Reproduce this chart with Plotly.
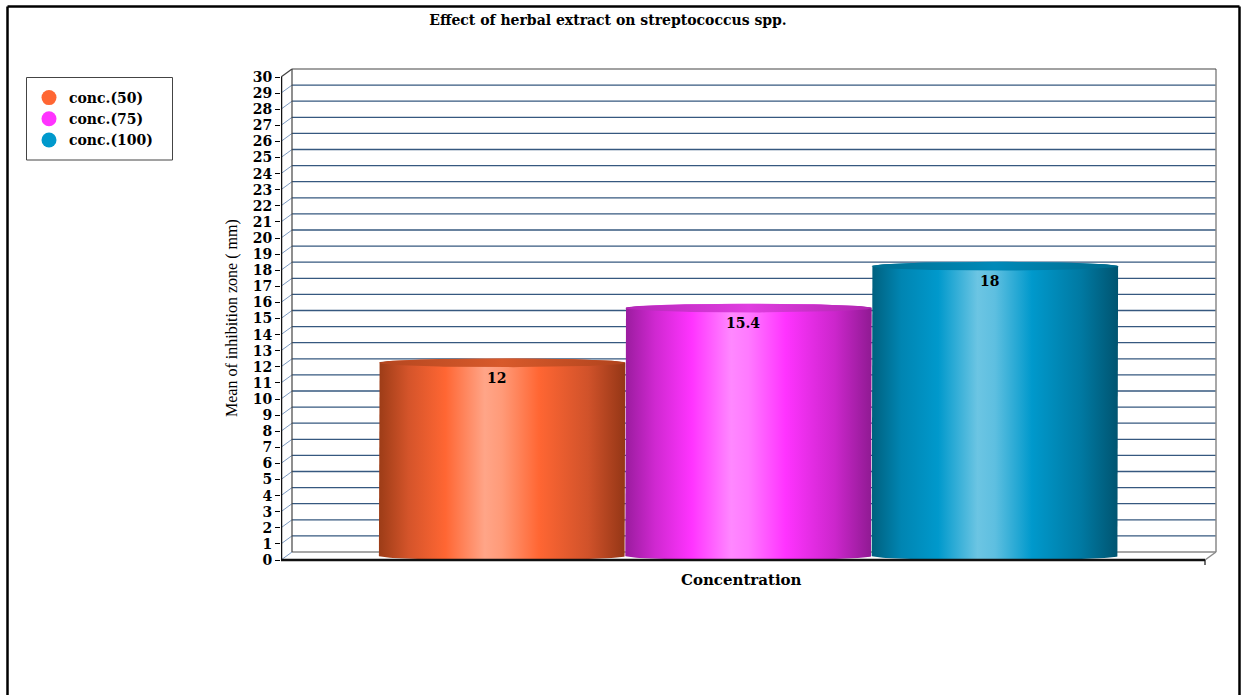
import numpy as np
import plotly.graph_objects as go

# ---- data ----
categories = ["conc.(50)", "conc.(75)", "conc.(100)"]
values = [12, 15.4, 18]
y_ticks = list(range(0, 31))
chart_title = "Effect of herbal extract on streptococcus spp."
x_title = "Concentration"
y_title = "Mean of inhibition zone ( mm)"

# ---- styling ----
legend_colors = ["#ff6633", "#ff33ff", "#0099cc"]
body_scales = [
    [[0, "#9c3c17"], [0.12, "#d4542a"], [0.27, "#ff6633"], [0.43, "#ffa588"],
     [0.5, "#ff9a78"], [0.65, "#ff6633"], [0.85, "#d0522a"], [1, "#943616"]],
    [[0, "#9a1c9e"], [0.12, "#cf28d0"], [0.27, "#ff33ff"], [0.43, "#ff88ff"],
     [0.5, "#ff7aff"], [0.65, "#ff33ff"], [0.85, "#cc26cc"], [1, "#8f1a92"]],
    [[0, "#00607e"], [0.12, "#0085b2"], [0.27, "#0099cc"], [0.43, "#6cc5e3"],
     [0.5, "#5ebfe0"], [0.65, "#0099cc"], [0.85, "#0079a2"], [1, "#005470"]],
]
cap_scales = [
    [[0, "#b4461f"], [0.5, "#d85a2b"], [1, "#b0431d"]],
    [[0, "#b426b8"], [0.5, "#e03ee0"], [1, "#b024b0"]],
    [[0, "#006f92"], [0.5, "#0089b8"], [1, "#006a8c"]],
]
SERIF_WIDE = "DejaVu Serif"
SERIF = "Liberation Serif, Times New Roman, serif"

W, H = 1242, 695
PX_L, PX_FRONT_R, PX_R = 281, 1205, 1220      # plot-area left / front axis end / plot-area right
PX_ZERO, PX_PER_UNIT = 560, 16.1              # pixel row of value 0 and pixels per unit
PLOT_TOP, PLOT_BOT = 67, 565
X_SPAN = PX_FRONT_R - PX_L                    # front axis spans x = 0..1

DX = 11 / X_SPAN                              # depth offset of the back wall
DY = 8 / PX_PER_UNIT
x_max = (PX_R - PX_L) / X_SPAN
y_lo = (PX_ZERO - PLOT_BOT) / PX_PER_UNIT
y_hi = (PX_ZERO - PLOT_TOP) / PX_PER_UNIT


def px(x):
    return (x - PX_L) / (PX_R - PX_L)


def py(y):
    return (PLOT_BOT - y) / (PLOT_BOT - PLOT_TOP)


def segs(pairs):
    xs, ys = [], []
    for (x0, y0), (x1, y1) in pairs:
        xs += [x0, x1, None]
        ys += [y0, y1, None]
    return xs, ys


def line_trace(pairs, color, width):
    xs, ys = segs(pairs)
    return go.Scatter(x=xs, y=ys, mode="lines", line=dict(color=color, width=width),
                      hoverinfo="skip", showlegend=False)


fig = go.Figure()

top_v = y_ticks[-1]
# back-wall grid lines
fig.add_trace(line_trace([((DX, v + DY), (1 + DX, v + DY)) for v in y_ticks[1:-1]], "#36587f", 1.3))
# side-wall connectors
fig.add_trace(line_trace([((0, v), (DX, v + DY)) for v in y_ticks[:-1]], "#5a7fae", 0.8))
# wall edges
fig.add_trace(line_trace([((DX, DY), (1 + DX, DY)), ((1 + DX, DY), (1 + DX, top_v + DY)),
                          ((1, 0), (1 + DX, DY))], "#8a8a8a", 1.5))
fig.add_trace(line_trace([((DX, DY), (DX, top_v + DY)), ((DX, top_v + DY), (1 + DX, top_v + DY)),
                          ((0, top_v), (DX, top_v + DY))], "#444444", 1.2))

# cylinders
group_w = 0.8
bar_w = group_w / len(values)
rx_factor = 0.5
ry = 0.27
t_top = np.linspace(np.pi, 0, 60)
t_bot = np.linspace(0, -np.pi, 60)
t_all = np.linspace(0, 2 * np.pi, 120)
for i, (cat, val) in enumerate(zip(categories, values)):
    left = 0.1 + i * bar_w + DX / 2
    right = left + bar_w
    xc = (left + right) / 2
    rx = bar_w * rx_factor
    base = DY / 2
    top = val + DY / 2
    bx = np.concatenate([[left], xc + rx * np.cos(t_top), [right], xc + rx * np.cos(t_bot)])
    by = np.concatenate([[base], top + ry * np.sin(t_top), [base], base + ry * np.sin(t_bot)])
    fig.add_trace(go.Scatter(
        x=bx, y=by, mode="lines", fill="toself", line=dict(width=0, color="rgba(0,0,0,0)"),
        fillgradient=dict(type="horizontal", colorscale=body_scales[i], start=left, stop=right),
        hoverinfo="skip", showlegend=False))
    fig.add_trace(go.Scatter(
        x=xc + rx * np.cos(t_all), y=top + ry * np.sin(t_all), mode="lines", fill="toself",
        line=dict(width=0, color="rgba(0,0,0,0)"),
        fillgradient=dict(type="horizontal", colorscale=cap_scales[i], start=left, stop=right),
        hoverinfo="skip", showlegend=False))
    fig.add_annotation(x=0.1 + (i + 0.5) * bar_w, y=val + DY / 2 - 0.95, text=f"{val:g}",
                       showarrow=False, xref="x", yref="y", xanchor="center", yanchor="middle",
                       font=dict(family=SERIF_WIDE, size=14, color="black", weight="bold"))

# front axes
fig.add_trace(line_trace([((0, 0), (0, top_v)), ((0, 0), (1, 0))], "#111111", 2.5))
fig.add_trace(line_trace([((1, 0), (1, -5 / PX_PER_UNIT))], "#111111", 1.2))

# legend entries
for cat, c in zip(categories, legend_colors):
    fig.add_trace(go.Scatter(x=[None], y=[None], mode="markers", name=cat,
                             marker=dict(color=c, size=15, symbol="circle")))

fig.add_annotation(x=px(741), y=py(580), xref="paper", yref="paper", text=x_title,
                   xanchor="center", yanchor="middle", showarrow=False,
                   font=dict(family=SERIF_WIDE, size=15, color="black", weight="bold"))
fig.add_annotation(x=px(232), y=py(318), xref="paper", yref="paper", text=y_title, textangle=-90,
                   xanchor="center", yanchor="middle", showarrow=False,
                   font=dict(family=SERIF, size=16, color="black"))

# outer frame
frame = dict(type="line", xref="paper", yref="paper", line=dict(color="black", width=2.5))
fig.add_shape(**frame, x0=px(7.5), y0=py(H + 5), x1=px(7.5), y1=py(6.5))
fig.add_shape(**frame, x0=px(7.5), y0=py(6.5), x1=px(1239.5), y1=py(6.5))
fig.add_shape(**frame, x0=px(1239.5), y0=py(6.5), x1=px(1239.5), y1=py(H + 5))
# legend box
fig.add_shape(type="rect", xref="paper", yref="paper", x0=px(26.5), y0=py(77.5), x1=px(172.5),
              y1=py(160), line=dict(color="#444444", width=1), fillcolor="white", layer="below")

fig.update_layout(
    width=W, height=H,
    margin=dict(l=PX_L, r=W - PX_R, t=PLOT_TOP, b=H - PLOT_BOT, pad=0),
    paper_bgcolor="white", plot_bgcolor="white",
    title=dict(text=chart_title, x=608 / W, y=1 - 20 / H, xanchor="center", yanchor="middle",
               font=dict(family=SERIF_WIDE, size=14, color="black", weight="bold")),
    xaxis=dict(range=[0, x_max], showgrid=False, zeroline=False, showticklabels=False,
               showline=False, ticks="", fixedrange=True),
    yaxis=dict(range=[y_lo, y_hi], tickvals=y_ticks, ticktext=[str(v) for v in y_ticks],
               ticks="outside", ticklen=5, tickwidth=1, tickcolor="black",
               showgrid=False, zeroline=False, showline=False, fixedrange=True,
               tickfont=dict(family=SERIF_WIDE, size=14, color="black", weight="bold")),
    legend=dict(x=px(29), y=py(82), xanchor="left", yanchor="top",
                borderwidth=0, bgcolor="rgba(0,0,0,0)",
                font=dict(family=SERIF_WIDE, size=14, color="black", weight="bold")),
    showlegend=True,
)

fig.write_html("out.html")
